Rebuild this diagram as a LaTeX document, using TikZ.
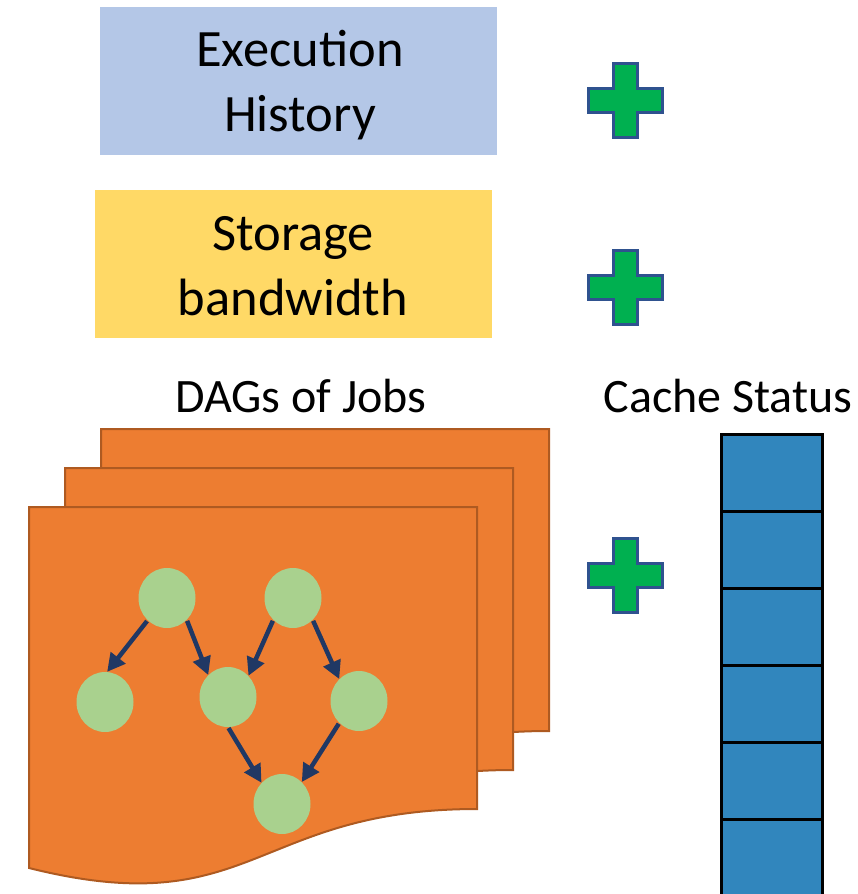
\documentclass[tikz,border=0pt]{standalone}
\usepackage{fontspec}
\setmainfont{Carlito}
\usetikzlibrary{arrows.meta,shapes.geometric}

\definecolor{histblue}{HTML}{B4C7E7}
\definecolor{storyellow}{HTML}{FFD966}
\definecolor{sheetorange}{HTML}{ED7D31}
\definecolor{sheetedge}{HTML}{AE5A21}
\definecolor{plusgreen}{HTML}{00B050}
\definecolor{plusedge}{HTML}{2F528F}
\definecolor{jobgreen}{HTML}{A9D18E}
\definecolor{depnavy}{HTML}{203864}
\definecolor{cacheblue}{RGB}{49,134,189}

\tikzset{
  infobox/.style={rectangle, inner sep=0pt, draw=none},
  boxtext/.style={align=center, inner sep=0pt, font=\fontsize{52.5}{65}\selectfont},
  titletext/.style={inner sep=0pt, anchor=base, font=\fontsize{48}{56}\selectfont},
  sheetstyle/.style={fill=sheetorange, draw=sheetedge, line width=2pt, line join=miter},
  plusstyle/.style={fill=plusgreen, draw=plusedge, line width=3pt, line join=miter},
  job/.style={ellipse, fill=jobgreen, draw=none, minimum width=57pt, minimum height=60pt, inner sep=0pt},
  dep/.style={draw=depnavy, line width=4.5pt, -{Triangle[length=18pt,width=18pt]}, shorten <=1pt},
  cachecell/.style={rectangle, fill=cacheblue, draw=black, line width=3pt,
    minimum width=101pt, minimum height=77pt, inner sep=0pt},
  jobsheet/.pic={
    \path[sheetstyle] (0,0) -- (448,0) -- (448,302)
      .. controls (224,302) and (224,417) .. (0,361) -- cycle;
  },
  plussign/.pic={
    \path[plusstyle] (-12,-37) -- (12,-37) -- (12,-12) -- (37,-12) -- (37,12)
      -- (12,12) -- (12,37) -- (-12,37) -- (-12,12) -- (-37,12) -- (-37,-12)
      -- (-12,-12) -- cycle;
  }
}

\begin{document}
\begin{tikzpicture}[x=1pt,y=-1pt]
\useasboundingbox (0,0) rectangle (858,894);
\clip (0,0) rectangle (858,894);

% input boxes
\node[infobox, fill=histblue, minimum width=397pt, minimum height=148pt] (hist) at (298.5,80.5) {};
\node[boxtext] (histtext) at (300,85) {Execution\\History};
\node[infobox, fill=storyellow, minimum width=397pt, minimum height=148pt] (stor) at (293.5,264) {};
\node[boxtext] (stortext) at (293,266) {Storage\\bandwidth};

% plus signs
\pic at (625,100) {plussign};
\pic at (625,287) {plussign};
\pic at (625,575) {plussign};

% titles
\node[titletext] (dagtitle) at (301,412) {DAGs of Jobs};
\node[titletext] (cachetitle) at (728,412) {Cache Status};

% stacked job sheets, back to front
\pic at (101,429) {jobsheet};
\pic at (65,468) {jobsheet};
\pic at (29,507) {jobsheet};

% job DAG
\node[job] (j1) at (167,598) {};
\node[job] (j2) at (293,598) {};
\node[job] (j3) at (105,702) {};
\node[job] (j4) at (228,697) {};
\node[job] (j5) at (359,701) {};
\node[job] (j6) at (282,804) {};

\draw[dep] (j1.-131) -- (j3.86);
\draw[dep] (j1.-48) -- (j4.132);
\draw[dep] (j2.-132) -- (j4.46);
\draw[dep] (j2.-48) -- (j5.132);
\draw[dep] (j4.-90) -- (j6.134);
\draw[dep] (j5.-132) -- (j6.48);

% cache column
\node[cachecell] (cell1) at (771.5,472.5) {};
\node[cachecell] (cell2) at (771.5,549.5) {};
\node[cachecell] (cell3) at (771.5,626.5) {};
\node[cachecell] (cell4) at (771.5,703.5) {};
\node[cachecell] (cell5) at (771.5,780.5) {};
\node[cachecell] (cell6) at (771.5,857.5) {};
\end{tikzpicture}
\end{document}
